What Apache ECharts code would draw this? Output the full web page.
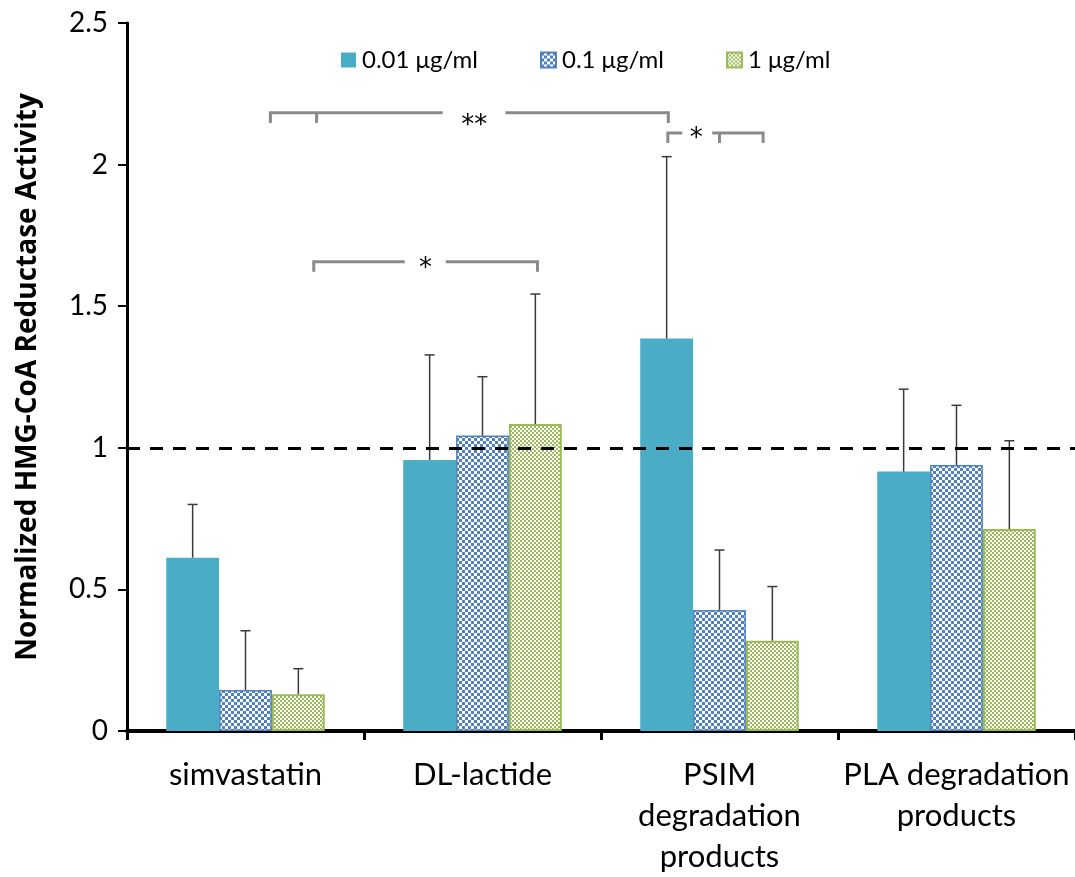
<!DOCTYPE html>
<html>
<head>
<meta charset="utf-8">
<script src="https://cdn.jsdelivr.net/npm/echarts@6/dist/echarts.min.js"></script>
<style>
  html, body { margin: 0; padding: 0; background: #fff; }
  #chart { width: 1075px; height: 877px; }
</style>
</head>
<body>
<div id="chart"></div>
<script>
// Groups on the x axis
const categories = ['simvastatin', 'DL-lactide', 'PSIM\ndegradation\nproducts', 'PLA degradation\nproducts'];
// Concentration series
const seriesNames = ['0.01 μg/ml', '0.1 μg/ml', '1 μg/ml'];
// Mean normalized activity per group
const mean001 = [0.612, 0.957, 1.386, 0.916];
const mean01  = [0.145, 1.043, 0.427, 0.939];
const mean1   = [0.130, 1.084, 0.319, 0.713];
// Upper error (standard deviation) per group
const err001 = [0.188, 0.371, 0.642, 0.291];
const err01  = [0.209, 0.208, 0.212, 0.211];
const err1   = [0.090, 0.459, 0.191, 0.312];
// Y axis ticks
const yMin = 0, yMax = 2.5, yStep = 0.5;
// Reference level
const baseline = 1;
// Significance brackets, x in group units (0..4 across the axis), y in activity units
const brackets = [
  { x1: 0.605, x2: 2.284, y: 2.183, drop: 0.036, ticks: [0.80], label: '**', labelX: 1.465, labelY: 2.157, gap: [1.332, 1.597] },
  { x1: 0.788, x2: 1.732, y: 1.657, drop: 0.035, ticks: [],     label: '*',  labelX: 1.259, labelY: 1.652, gap: [1.172, 1.345] },
  { x1: 2.282, x2: 2.684, y: 2.112, drop: 0.036, ticks: [2.50], label: '*',  labelX: 2.402, labelY: 2.112, gap: [2.343, 2.469] }
];

const BAR_FRAC = 0.223;
const FONT = 'Lato, "Open Sans", sans-serif';

function checker(size, fg, bg) {
  const c = document.createElement('canvas');
  c.width = c.height = size * 2;
  const g = c.getContext('2d');
  g.fillStyle = bg; g.fillRect(0, 0, size * 2, size * 2);
  g.fillStyle = fg; g.fillRect(0, 0, size, size); g.fillRect(size, size, size, size);
  return c;
}

const fills = [
  '#4BACC6',
  { image: checker(3, '#4F81BD', '#FFFFFF'), repeat: 'repeat' },
  { image: checker(2, '#9BBB59', '#FFFFFF'), repeat: 'repeat' }
];
const borders = [
  { borderWidth: 0 },
  { borderColor: '#4F81BD', borderWidth: 1.5 },
  { borderColor: '#9BBB59', borderWidth: 2 }
];
const means = [mean001, mean01, mean1];
const errs = [err001, err01, err1];

const barSeries = seriesNames.map((name, k) => ({
  name,
  type: 'bar',
  xAxisIndex: 0,
  yAxisIndex: 0,
  barWidth: (BAR_FRAC * 100) + '%',
  barGap: '0%',
  data: means[k],
  itemStyle: Object.assign({ color: fills[k] }, borders[k]),
  emphasis: { disabled: true },
  z: 2,
  markLine: k === 0 ? {
    silent: true,
    symbol: 'none',
    label: { show: false },
    lineStyle: { color: '#000', width: 3, type: [13, 10] },
    data: [{ yAxis: baseline }],
    z: 5
  } : undefined
}));

const errorSeries = seriesNames.map((name, k) => ({
  name: name + ' error',
  type: 'custom',
  xAxisIndex: 0,
  yAxisIndex: 0,
  z: 4,
  silent: true,
  data: categories.map((c, i) => [i, means[k][i], errs[k][i]]),
  renderItem(params, api) {
    const ci = api.value(0), v = api.value(1), e = api.value(2);
    const band = api.size([1, 0])[0];
    const x = api.coord([ci, 0])[0] + (k - 1) * band * BAR_FRAC;
    const y0 = api.coord([ci, v])[1];
    const y1 = api.coord([ci, v + e])[1];
    const style = { stroke: '#3a3a3a', lineWidth: 1.5 };
    return {
      type: 'group',
      children: [
        { type: 'line', shape: { x1: x, y1: y0, x2: x, y2: y1 }, style },
        { type: 'line', shape: { x1: x - 5, y1: y1, x2: x + 5, y2: y1 }, style }
      ]
    };
  }
}));

const bracketSeries = {
  name: 'significance',
  type: 'custom',
  xAxisIndex: 1,
  yAxisIndex: 0,
  clip: false,
  silent: true,
  z: 6,
  data: brackets.map((b, i) => [b.labelX, b.y, i]),
  renderItem(params, api) {
    const b = brackets[params.dataIndex];
    const P = (x, y) => api.coord([x, y]);
    const style = { stroke: '#8A8A8A', lineWidth: 3, fill: null, lineJoin: 'miter' };
    const kids = [
      { type: 'polyline', shape: { points: [P(b.x1, b.y - b.drop), P(b.x1, b.y), P(b.gap[0], b.y)] }, style },
      { type: 'polyline', shape: { points: [P(b.gap[1], b.y), P(b.x2, b.y), P(b.x2, b.y - b.drop)] }, style }
    ];
    b.ticks.forEach(t => kids.push({ type: 'polyline', shape: { points: [P(t, b.y), P(t, b.y - b.drop)] }, style }));
    const lp = P(b.labelX, b.labelY);
    kids.push({
      type: 'text',
      x: lp[0], y: lp[1] + 6,
      style: { text: b.label, fill: '#000', font: '26px "DejaVu Sans", sans-serif', align: 'center', verticalAlign: 'middle' }
    });
    return { type: 'group', children: kids };
  }
};

const chart = echarts.init(document.getElementById('chart'), null, { renderer: 'canvas' });
chart.setOption({
  animation: false,
  backgroundColor: '#fff',
  grid: { left: 127, right: 0, top: 23, bottom: 146, containLabel: false, outerBoundsMode: 'none' },
  legend: {
    data: seriesNames,
    left: 336,
    top: 43,
    itemWidth: 15,
    itemHeight: 15,
    itemGap: 62,
    icon: 'rect',
    selectedMode: false,
    textStyle: { fontFamily: FONT, fontSize: 24, color: '#000', padding: [0, 0, 0, 1] }
  },
  xAxis: [
    {
      type: 'category',
      data: categories,
      axisLine: { lineStyle: { color: '#000', width: 4 } },
      axisTick: { show: true, length: 9, lineStyle: { color: '#000', width: 3 } },
      axisLabel: {
        interval: 0,
        margin: 23,
        color: '#000',
        fontFamily: FONT,
        fontSize: 31,
        lineHeight: 41
      },
      splitLine: { show: false }
    },
    { type: 'value', min: 0, max: 4, show: false }
  ],
  yAxis: {
    type: 'value',
    min: yMin,
    max: yMax,
    interval: yStep,
    name: 'Normalized HMG-CoA Reductase Activity',
    nameLocation: 'middle',
    nameGap: 85,
    nameTextStyle: { fontFamily: '"Open Sans", Lato, sans-serif', fontWeight: 'bold', fontSize: 28, color: '#000' },
    axisLine: { show: true, lineStyle: { color: '#000', width: 3 } },
    axisTick: { show: true, length: 9, lineStyle: { color: '#000', width: 2 } },
    axisLabel: { margin: 19, color: '#000', fontFamily: FONT, fontSize: 28 },
    splitLine: { show: false }
  },
  series: [...barSeries, ...errorSeries, bracketSeries]
});
</script>
</body>
</html>
